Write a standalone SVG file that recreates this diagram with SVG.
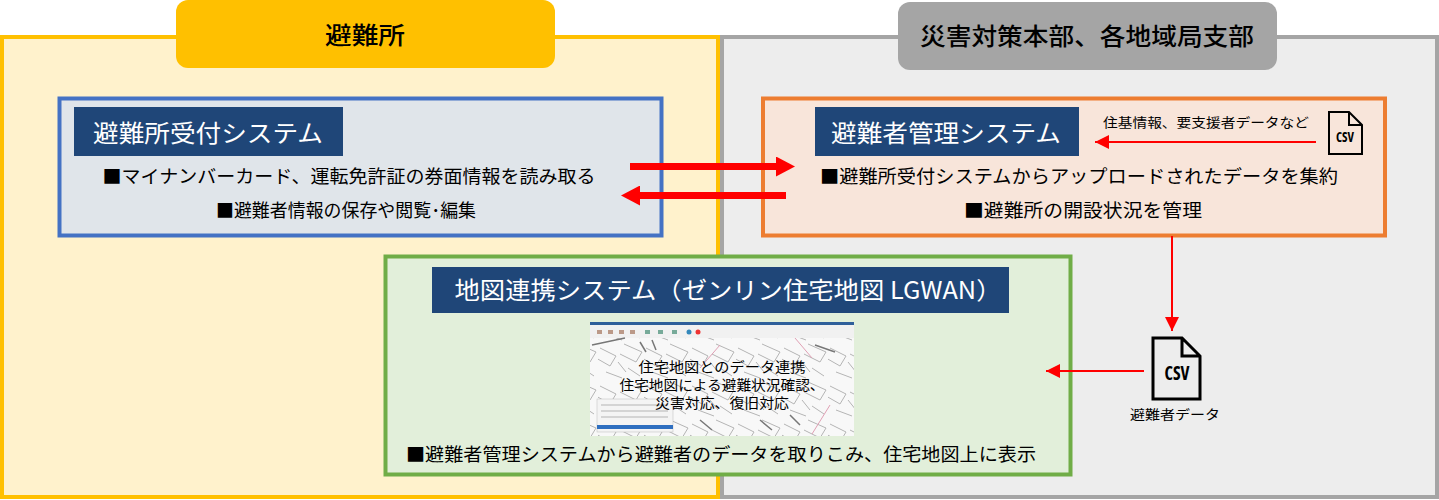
<svg xmlns="http://www.w3.org/2000/svg" width="1439" height="500" viewBox="0 0 1439 500">
<style>
text{font-family:"Noto Sans CJK JP","Noto Sans",sans-serif;text-anchor:middle;fill:#000}
.h{fill:#fff;font-size:24px}
.b{font-size:18.5px}
.s{font-size:13px}
.m{font-size:14px}
.hd{fill:#1F4678}
.t{font-size:24px;font-weight:500}
.csv{font-family:"Open Sans",sans-serif;font-weight:700;font-stretch:condensed}
.doc{fill:none;stroke:#000;stroke-linejoin:miter}
.mp{fill:none;stroke:#b4b4b4;stroke-width:1}
.md{fill:none;stroke:#777;stroke-width:1.500}
.mq{fill:none;stroke:#e0a0b4;stroke-width:1}
</style>
<defs>
<marker id="a" markerUnits="userSpaceOnUse" markerWidth="20" markerHeight="20" refX="0" refY="10" orient="auto"><path d="M0 0L19 10L0 20Z" fill="#F00"/></marker>
<marker id="c" markerUnits="userSpaceOnUse" markerWidth="16" markerHeight="14" refX="14" refY="7" orient="auto"><path d="M0 0L14 7L0 14Z" fill="#F00"/></marker>
<pattern id="mapTex" patternUnits="userSpaceOnUse" width="46" height="38"><path class="mp" d="M2 6L18 14L12 24L-2 16M26 2L44 10L38 20L22 12M8 30L24 36M30 26L42 34M20 20L28 30"/></pattern>
</defs>
<rect width="1439" height="500" fill="#fff"/>
<g id="panel-shelter"><rect x="2" y="37" width="716" height="460" fill="#FFF2CC" stroke="#FFC000" stroke-width="4"/><rect x="176" y="0" width="379" height="68" rx="12" fill="#FFC000"/><text class="t" x="365" y="44" textLength="80" lengthAdjust="spacingAndGlyphs">避難所</text></g>
<g id="panel-hq"><rect x="722" y="37" width="715" height="460" fill="#EDEDED" stroke="#A5A5A5" stroke-width="4"/><rect x="898" y="2" width="379" height="68" rx="12" fill="#A5A5A5"/><text class="t" x="1087" y="45" textLength="334" lengthAdjust="spacingAndGlyphs">災害対策本部、各地域局支部</text></g>
<g id="node-reception"><rect x="59.500" y="98.500" width="602" height="137" fill="#E0E5EA" stroke="#4472C4" stroke-width="4"/><rect class="hd" x="74" y="107" width="269" height="49"/><text class="h" x="208" y="142" textLength="230" lengthAdjust="spacingAndGlyphs">避難所受付システム</text><text class="b" x="349" y="183" textLength="493" lengthAdjust="spacingAndGlyphs">■マイナンバーカード、運転免許証の券面情報を読み取る</text><text class="b" x="346" y="217" textLength="260" lengthAdjust="spacingAndGlyphs">■避難者情報の保存や閲覧･編集</text></g>
<g id="node-manage"><rect x="763" y="98.500" width="622" height="137" fill="#F8E5DA" stroke="#ED7D31" stroke-width="4"/><rect class="hd" x="815" y="107" width="264" height="49"/><text class="h" x="946" y="142" textLength="230" lengthAdjust="spacingAndGlyphs">避難者管理システム</text><text class="b" x="1079" y="183" textLength="518" lengthAdjust="spacingAndGlyphs">■避難所受付システムからアップロードされたデータを集約</text><text class="b" x="1083" y="217" textLength="238" lengthAdjust="spacingAndGlyphs">■避難所の開設状況を管理</text><text class="s" x="1206" y="127" textLength="206" lengthAdjust="spacingAndGlyphs">住基情報、要支援者データなど</text></g>
<g id="node-csv-small"><path class="doc" stroke-width="2" d="M1329 112H1349L1362 125V154H1329Z M1349 112V125H1362"/><text class="csv" x="1345" y="142" font-size="14" textLength="18" lengthAdjust="spacingAndGlyphs">CSV</text></g>
<g id="node-map"><rect x="385.500" y="256.500" width="685" height="218" fill="#E2EFDA" stroke="#70AD47" stroke-width="4"/><rect class="hd" x="432" y="267" width="577" height="46"/><text class="h" x="728" y="299" textLength="547" lengthAdjust="spacingAndGlyphs">地図連携システム（ゼンリン住宅地図 LGWAN）</text>
<g id="map-image"><rect x="590" y="322" width="264" height="114" fill="#f8f8f8"/><rect x="590" y="338" width="264" height="98" fill="url(#mapTex)"/><rect x="590" y="322" width="264" height="3" fill="#2F5F9A"/><rect x="590" y="325" width="264" height="13" fill="#f1f1f1"/>
<path fill="#b98" d="M597 330h5v4h-5zM608 330h5v4h-5zM619 330h5v4h-5zM630 330h5v4h-5z"/><path fill="#7a9" d="M645 330h5v4h-5zM658 330h5v4h-5zM672 330h5v4h-5z"/><circle cx="689" cy="332" r="2.500" fill="#38b"/><circle cx="698" cy="332" r="2.500" fill="#e33"/>
<path class="md" d="M592 345L625 338M640 342L646 352M652 340L656 350M760 420L772 430M790 415L800 425M815 345L835 352M700 420L712 430"/>
<path class="mq" d="M795 338L812 358M720 345L700 368M830 405L812 434"/>
<rect x="597" y="399" width="76" height="33" fill="#f4f4f4" stroke="#bbb" stroke-width=".5"/><path class="mp" d="M601 405H668M601 411H668M601 417H668"/><rect x="597" y="425" width="76" height="4" fill="#2F6FC0"/></g>
<text class="m" x="722" y="372" textLength="167" lengthAdjust="spacingAndGlyphs">住宅地図とのデータ連携</text><text class="m" x="722" y="390" textLength="205" lengthAdjust="spacingAndGlyphs">住宅地図による避難状況確認、</text><text class="m" x="722" y="408" textLength="134" lengthAdjust="spacingAndGlyphs">災害対応、復旧対応</text>
<text class="b" x="721" y="461" textLength="630" lengthAdjust="spacingAndGlyphs">■避難者管理システムから避難者のデータを取りこみ、住宅地図上に表示</text></g>
<g id="node-csv-large"><path class="doc" stroke-width="3" d="M1153 338H1182L1200 356V399H1153Z M1182 338V356H1200"/><text class="csv" x="1177" y="380" font-size="19" textLength="25" lengthAdjust="spacingAndGlyphs">CSV</text><text class="s" x="1175" y="419" textLength="90" lengthAdjust="spacingAndGlyphs">避難者データ</text></g>
<g id="connectors" fill="none" stroke="#F00">
<path d="M630 166.500H776" stroke-width="7" marker-end="url(#a)"/>
<path d="M786 195.500H640" stroke-width="7" marker-end="url(#a)"/>
<path d="M1316 142H1095" stroke-width="2" marker-end="url(#c)"/>
<path d="M1172 236V331" stroke-width="2" marker-end="url(#c)"/>
<path d="M1144 371H1046" stroke-width="2" marker-end="url(#c)"/>
</g>
</svg>
